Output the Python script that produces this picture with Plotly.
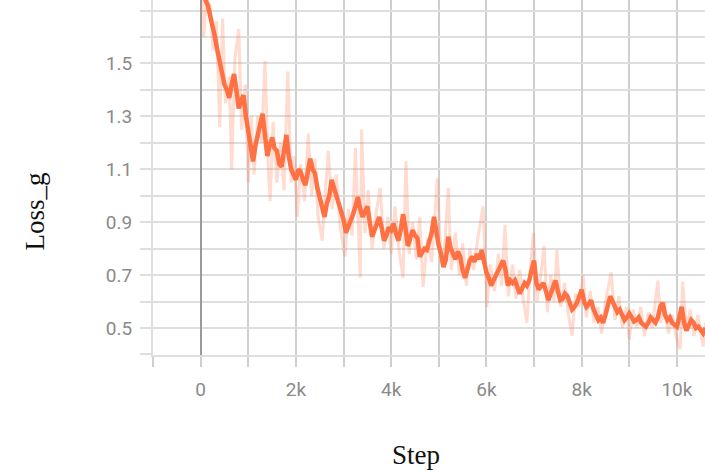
import plotly.graph_objects as go

# smoothed loss curve, one reading every 50 steps
smooth_steps = list(range(0, 10601, 50))
smooth_loss = [
    1.82, 1.78, 1.74, 1.72, 1.68, 1.65, 1.60, 1.55, 1.50, 1.47, 1.42, 1.40, 1.37, 1.42, 1.46, 1.40,
    1.33, 1.36, 1.38, 1.30, 1.25,
    1.18, 1.13, 1.19, 1.24, 1.27, 1.31, 1.22, 1.15, 1.19, 1.22, 1.18, 1.17, 1.12, 1.11, 1.17, 1.23,
    1.15, 1.10, 1.08, 1.06,
    1.10, 1.09, 1.06, 1.04, 1.09, 1.14, 1.10, 1.085, 1.03, 0.995, 0.96, 0.92, 0.97, 1.00, 1.06, 1.03,
    0.995, 0.97, 0.945, 0.91,
    0.86, 0.88, 0.90, 0.93, 0.96, 0.995, 0.95, 0.92, 0.94, 0.96, 0.90, 0.845, 0.87, 0.89, 0.92, 0.88,
    0.83, 0.85, 0.88, 0.87,
    0.895, 0.86, 0.83, 0.87, 0.93, 0.88, 0.81, 0.84, 0.87, 0.85, 0.84, 0.77, 0.79, 0.80, 0.795, 0.83,
    0.86, 0.92, 0.85, 0.81,
    0.78, 0.73, 0.76, 0.845, 0.80, 0.78, 0.76, 0.79, 0.77, 0.72, 0.69, 0.72, 0.755, 0.77, 0.75, 0.78,
    0.76, 0.795, 0.74, 0.71,
    0.69, 0.66, 0.68, 0.70, 0.71, 0.73, 0.755, 0.72, 0.66, 0.68, 0.67, 0.68, 0.65, 0.63, 0.65, 0.67,
    0.66, 0.68, 0.72, 0.755,
    0.67, 0.645, 0.66, 0.67, 0.64, 0.605, 0.63, 0.65, 0.68, 0.64, 0.605, 0.61, 0.63, 0.62, 0.59, 0.57,
    0.58, 0.595, 0.62, 0.645,
    0.60, 0.58, 0.59, 0.605, 0.57, 0.55, 0.53, 0.54, 0.52, 0.55, 0.58, 0.62, 0.60, 0.58, 0.56, 0.57,
    0.55, 0.53, 0.54, 0.555,
    0.54, 0.525, 0.53, 0.54, 0.52, 0.51, 0.505, 0.52, 0.54, 0.53, 0.52, 0.54, 0.58, 0.595, 0.55, 0.53,
    0.54, 0.52, 0.51, 0.505,
    0.54, 0.58, 0.52, 0.49, 0.51, 0.53, 0.52, 0.50, 0.505, 0.49, 0.48, 0.50,
]

# raw (unsmoothed) loss, drawn faint behind
raw_steps = [0, 60, 120, 200, 260, 330, 400, 460, 520, 600, 650, 720, 800, 860, 940, 1000, 1060,
             1120, 1200, 1280, 1350, 1420, 1460, 1520, 1600, 1680, 1750, 1830, 1900, 1960, 2030,
             2100, 2180, 2260, 2330, 2400, 2460, 2550, 2620, 2680, 2760, 2850, 2930, 3030, 3100,
             3180, 3250, 3300, 3350, 3380, 3450, 3520, 3600, 3680, 3770, 3850, 3930, 4000, 4080,
             4160, 4250, 4310, 4380, 4450, 4530, 4600, 4670, 4760, 4850, 4970, 5050, 5120, 5200,
             5260, 5350, 5430, 5500, 5580, 5650, 5730, 5820, 5930, 6010, 6080, 6170, 6250, 6320,
             6390, 6460, 6550, 6620, 6700, 6780, 6850, 6920, 6990, 7060, 7140, 7210, 7280, 7350,
             7420, 7480, 7560, 7640, 7720, 7800, 7870, 7950, 8030, 8100, 8180, 8260, 8340, 8420,
             8500, 8620, 8700, 8780, 8860, 8940, 9000, 9080, 9160, 9240, 9320, 9400, 9480, 9600,
             9660, 9740, 9820, 9900, 9980, 10070, 10120, 10200, 10280, 10360, 10440, 10550, 10600]
raw_loss = [1.85, 1.60, 1.74, 1.72, 1.55, 1.66, 1.26, 1.67, 1.35, 1.45, 1.10, 1.52, 1.63, 1.25,
            1.42, 1.05, 1.30, 1.08, 1.30, 1.20, 1.51, 1.10, 0.98, 1.28, 1.05, 1.20, 1.02, 1.47,
            1.05, 1.15, 0.92, 1.12, 0.98, 1.235, 1.00, 1.14, 0.93, 0.83, 1.02, 1.17, 0.95, 1.08,
            0.88, 0.77, 0.95, 0.85, 1.18, 0.90, 0.69, 1.25, 0.86, 1.02, 0.80, 0.93, 1.03, 0.80,
            0.92, 0.78, 0.96, 0.80, 0.69, 1.13, 0.78, 0.90, 0.76, 0.92, 0.655, 0.84, 0.75, 1.066,
            0.74, 0.80, 1.03, 0.72, 0.86, 0.70, 0.82, 0.66, 0.80, 0.72, 0.84, 0.96, 0.58, 0.74,
            0.64, 0.78, 0.66, 0.89, 0.62, 0.74, 0.61, 0.72, 0.60, 0.52, 0.72, 0.86, 0.60, 0.70,
            0.81, 0.56, 0.70, 0.60, 0.795, 0.58, 0.67, 0.55, 0.47, 0.63, 0.58, 0.70, 0.54, 0.64,
            0.52, 0.58, 0.48, 0.60, 0.71, 0.53, 0.62, 0.50, 0.58, 0.455, 0.57, 0.50, 0.58, 0.47,
            0.56, 0.50, 0.68, 0.52, 0.60, 0.48, 0.55, 0.47, 0.42, 0.675, 0.50, 0.57, 0.47, 0.55,
            0.43, 0.52]

orange = "#ff7043"
grid_h = "#dedede"
grid_v = "#cfcfcf"
tick_font = dict(family="Roboto", size=19, color="#8a8a8a")
title_font = dict(family="Liberation Serif", size=27, color="#111")

fig = go.Figure()
fig.add_trace(go.Scatter(x=raw_steps, y=raw_loss, mode="lines",
                         line=dict(color="rgba(255,112,67,0.25)", width=3)))
fig.add_trace(go.Scatter(x=smooth_steps, y=smooth_loss, mode="lines",
                         line=dict(color=orange, width=4.5)))

fig.update_xaxes(
    range=[-1001, 10590], tick0=0, dtick=2000, tickformat="~s", automargin=False,
    ticks="outside", ticklen=10, tickwidth=2, tickcolor=grid_v,
    showgrid=True, gridcolor=grid_v, gridwidth=2,
    minor=dict(tick0=0, dtick=1000, ticks="outside", ticklen=10, tickwidth=2, tickcolor=grid_v,
               showgrid=True, gridcolor=grid_v, gridwidth=2),
    zeroline=True, zerolinecolor="#9a9a9a", zerolinewidth=2,
    showline=True, linecolor=grid_h, linewidth=2,
    tickfont=tick_font, ticklabelstandoff=6,
)
fig.update_yaxes(
    range=[0.398, 1.74], tick0=0.5, dtick=0.2, automargin=False,
    ticks="outside", ticklen=11, tickwidth=2, tickcolor=grid_h,
    showgrid=True, gridcolor=grid_h, gridwidth=2,
    minor=dict(tick0=0.5, dtick=0.1, ticks="outside", ticklen=11, tickwidth=2, tickcolor=grid_h,
               showgrid=True, gridcolor=grid_h, gridwidth=2),
    zeroline=False, showline=True, linecolor=grid_h, linewidth=2,
    tickfont=tick_font, ticklabelstandoff=4,
)

fig.update_layout(
    width=705, height=472,
    margin=dict(l=153, r=0, t=0, b=117),
    plot_bgcolor="white", paper_bgcolor="white",
    showlegend=False,
    annotations=[
        dict(text="Step", xref="paper", yref="paper", x=0.4757, y=-0.2817,
             xanchor="center", yanchor="middle", showarrow=False, font=title_font),
        dict(text="Loss_g", xref="paper", yref="paper", x=-0.2138, y=0.404,
             xanchor="center", yanchor="middle", textangle=-90, showarrow=False,
             font=title_font),
    ],
)

# drop the browser's default 8px page margin so the figure sits at the top-left corner
fig.write_html("out.html", config={"displayModeBar": False},
               post_script="document.body.style.margin='0';")
